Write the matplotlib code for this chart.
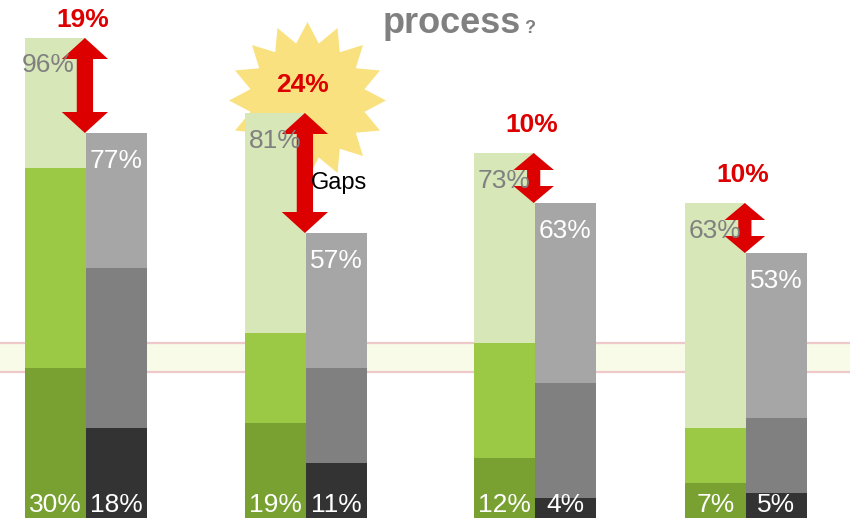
import matplotlib.pyplot as plt
import matplotlib.patches as mpatches
from matplotlib.path import Path

plt.rcParams['font.family'] = ['Liberation Sans', 'DejaVu Sans']

# Levels in percent, read from bottom to top of each stacked bar
green_base = [30, 19, 12, 7]
green_mid = [70, 37, 35, 18]
green_total = [96, 81, 73, 63]
grey_base = [18, 11, 4, 5]
grey_mid = [50, 30, 27, 20]
grey_total = [77, 57, 63, 53]

# Reference band across the chart (percent)
band_low = 29.3
band_high = 35.0

# Layout: where each pair of bars meets, and bar width (axis units)
group_pos = [0.0, 1.0, 2.04, 3.0]
bar_w = 0.277

LIGHT_GREEN = '#d7e7b8'
MID_GREEN = '#9bc946'
DARK_GREEN = '#78a131'
LIGHT_GREY = '#a6a6a6'
MID_GREY = '#808080'
DARK_GREY = '#333333'
RED = '#dd0000'
STAR = '#fae17f'

fig = plt.figure(figsize=(8.5, 5.18), dpi=100)
ax = fig.add_axes([0, 0, 1, 1])
ax.set_xlim(-0.391, 3.473)
ax.set_ylim(0, 103.6)
ax.axis('off')

# highlighted band behind the bars
ax.axhspan(band_low, band_high, color='#f7fbe8', lw=0, zorder=0)
for yb in (band_low, band_high):
    ax.axhline(yb, color='#efc9c9', lw=1.6, zorder=0.5)


def stack(xs, base, mid, total, colors):
    tops = [base, mid, total]
    bottoms = [[0] * len(base), base, mid]
    for top, bot, c in zip(tops, bottoms, colors):
        heights = [t - b for t, b in zip(top, bot)]
        ax.bar(xs, heights, bottom=bot, width=bar_w, align='edge',
               color=c, lw=0, zorder=2)


def double_arrow(x, hi, lo):
    """Vertical arrow with a head at both ends, from lo up to hi."""
    gap = hi - lo
    hl = min(4.2, gap * 0.34)
    hh = 0.105 if gap > 15 else 0.092
    hs = 0.037 if gap > 15 else 0.03
    pts = [(x, hi), (x + hh, hi - hl), (x + hs, hi - hl), (x + hs, lo + hl),
           (x + hh, lo + hl), (x, lo), (x - hh, lo + hl), (x - hs, lo + hl),
           (x - hs, hi - hl), (x - hh, hi - hl)]
    ax.add_patch(mpatches.Polygon(pts, closed=True, color=RED, lw=0,
                                  zorder=4))


green_x = [p - bar_w for p in group_pos]
grey_x = list(group_pos)
stack(green_x, green_base, green_mid, green_total,
      [DARK_GREEN, MID_GREEN, LIGHT_GREEN])
stack(grey_x, grey_base, grey_mid, grey_total,
      [DARK_GREY, MID_GREY, LIGHT_GREY])

# starburst behind the biggest gap
big = max(range(len(group_pos)), key=lambda i: green_total[i] - grey_total[i])
star = Path.unit_regular_star(16, 0.74)
ax.scatter([group_pos[big] + 0.005], [green_total[big] + 2.6], marker=star,
           s=113 ** 2, color=STAR, lw=0, zorder=1)

for i, p in enumerate(group_pos):
    gc = p - bar_w / 2
    rc = p + bar_w / 2
    # value labels
    ax.text(gc - (0.035 if i == 0 else 0), green_total[i] - 5.5,
            f'{green_total[i]}%', ha='center', va='center', fontsize=19,
            color='#808080', zorder=5)
    ax.text(rc, grey_total[i] - 5.5, f'{grey_total[i]}%', ha='center',
            va='center', fontsize=19, color='white', zorder=5)
    ax.text(gc, 2.5, f'{green_base[i]}%', ha='center', va='center',
            fontsize=19, color='white', zorder=5)
    ax.text(rc, 2.5, f'{grey_base[i]}%', ha='center', va='center',
            fontsize=19, color='white', zorder=5)

    hi, lo = green_total[i], grey_total[i]
    double_arrow(p - 0.005, hi, lo)
    ax.text(p - 0.015, min(hi + 5.6, 99.6), f'{hi - lo}%', ha='center',
            va='center', fontsize=19, fontweight='bold', color=RED, zorder=6)

ax.text(group_pos[big] + 0.02, (green_total[big] + grey_total[big]) / 2 - 2,
        'Gaps', ha='left', va='center', fontsize=17, color='black', zorder=6)

fig.text(383 / 850, 1 - 33 / 518, 'process', ha='left', va='baseline',
         fontsize=26, fontweight='bold', color='#808080')
fig.text(524 / 850, 1 - 33 / 518, '?', ha='left', va='baseline',
         fontsize=13, fontweight='bold', color='#808080')

fig.savefig('out.png', dpi=100)
